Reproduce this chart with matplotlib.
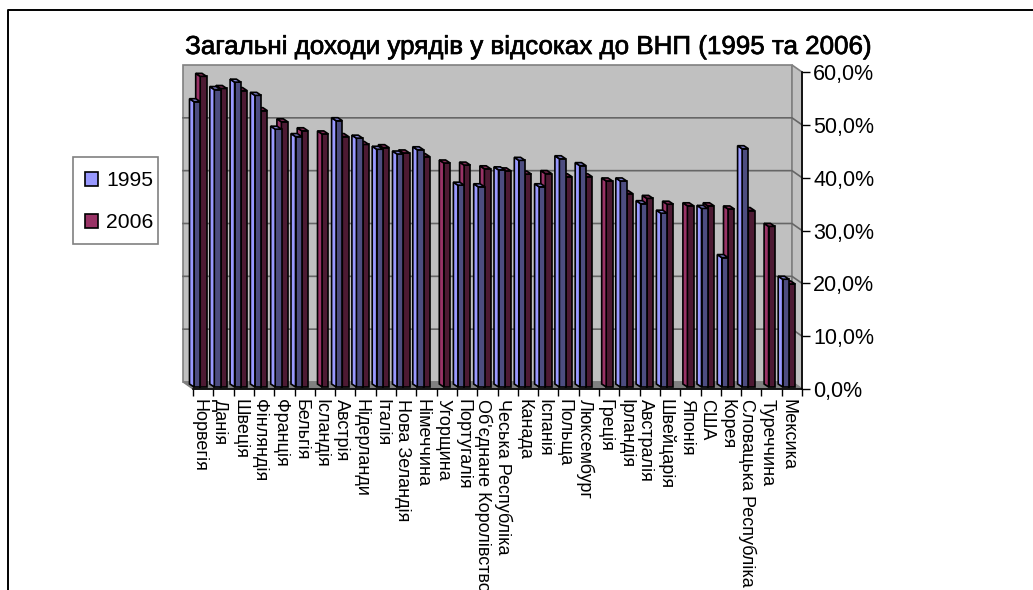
import numpy as np
import matplotlib
matplotlib.use("Agg")
import matplotlib.pyplot as plt
import matplotlib.patheffects as pe
from matplotlib.patches import Polygon, Rectangle

plt.rcParams['font.family'] = ['Liberation Sans', 'DejaVu Sans']

krainy = ["Норвегія", "Данія", "Швеція", "Фінляндія", "Франція", "Бельгія", "Ісландія", "Австрія",
          "Нідерланди", "Італія", "Нова Зеландія", "Німеччина", "Угорщина", "Португалія",
          "Об'єднане Королівство", "Чеська Республіка", "Канада", "Іспанія", "Польща", "Люксембург",
          "Греція", "Ірландія", "Австралія", "Швейцарія", "Японія", "США", "Корея",
          "Словацька Республіка", "Туреччина", "Мексика"]
n = np.nan
v1995 = [54.0, 56.3, 57.7, 55.2, 48.8, 47.4, n, 50.4, 47.1, 45.0, 44.1, 44.9, n, 38.2, 37.9,
         41.1, 42.9, 37.9, 43.2, 41.9, n, 39.0, 34.7, 32.9, n, 33.8, 24.5, 45.1, n, 20.4]
v2006 = [58.8, 56.5, 56.1, 52.3, 50.2, 48.5, 47.9, 47.4, 45.9, 45.3, 44.3, 43.6, 42.4, 42.0, 41.3,
         40.9, 40.3, 40.4, 39.8, 39.8, 39.0, 36.6, 35.7, 34.6, 34.3, 34.3, 33.7, 33.4, 30.4, 19.5]
tick_y = [0, 10, 20, 30, 40, 50, 60]
tick_y_lab = ["0,0%", "10,0%", "20,0%", "30,0%", "40,0%", "50,0%", "60,0%"]

W, H = 1033, 590
fig = plt.figure(figsize=(W / 100, H / 100), dpi=100)
ax = fig.add_axes([193 / W, (H - 389) / H, 609 / W, 317 / H])
ax.set_xlim(0, 30)
ax.set_ylim(0, 60)
ax.patch.set_visible(False)

# pixel -> data
px = 30 / 609
py = 60 / 317
dx = -10 * px   # depth of the box
dy = 7 * py

# walls
ax.add_patch(Polygon([(dx, dy), (30 + dx, dy), (30 + dx, 60 + dy), (dx, 60 + dy)], fc="#c0c0c0", ec="#808080", lw=1.2, zorder=1, clip_on=False))
ax.add_patch(Polygon([(30 + dx, dy), (30, 0), (30, 60), (30 + dx, 60 + dy)], fc="#c0c0c0", ec="#808080", lw=1.2, zorder=1, clip_on=False))
ax.add_patch(Polygon([(dx, dy), (30 + dx, dy), (30, 0), (0, 0)], fc="#808080", ec="#808080", lw=1, zorder=1, clip_on=False))
for t in tick_y[1:-1]:
    ax.plot([dx, 30 + dx, 30], [t + dy, t + dy, t], color="#666666", lw=1.2, zorder=2, clip_on=False)


def stovpci(x, vals, bok, front, verh):
    vals = np.array(vals)
    ok = ~np.isnan(vals)
    base = 2 * py
    ax.bar(x[ok], vals[ok], width=6.3 * px, bottom=base, align='edge', color=front, edgecolor="black", lw=1.2, zorder=3, clip_on=False)
    gl_x = -4.5 * px
    gl_y = 3 * py
    for a, v in zip(x[ok], vals[ok]):
        top = v + base
        ax.add_patch(Polygon([(a, base), (a, top), (a + gl_x, top + gl_y), (a + gl_x, base + gl_y)],
                             fc=bok, ec="black", lw=1.2, zorder=3, clip_on=False))
        ax.add_patch(Polygon([(a, top), (a + 6.3 * px, top), (a + 6.3 * px + gl_x, top + gl_y), (a + gl_x, top + gl_y)],
                             fc=verh, ec="black", lw=1.2, zorder=3, clip_on=False))


ind = np.arange(len(krainy))
# 2006 goes first, the 1995 bars stand in front of it
stovpci(ind + 7.2 * px, v2006, "#993366", "#4d1a33", "#802b55")
stovpci(ind + 1 * px, v1995, "#9999ff", "#4d4d80", "#8080d0")

ax.yaxis.tick_right()
ax.set_yticks(tick_y, tick_y_lab, fontsize=15.5, color="black")
ax.tick_params(axis='y', length=5.5, width=1, pad=2.5)
ax.set_xticks(np.arange(31))
ax.set_xticklabels([])
ax.tick_params(axis='x', which='major', length=5, width=1)
ax.set_xticks(ind + 0.3, krainy, minor=True, rotation=270, fontsize=13)
ax.tick_params(axis='x', which='minor', length=0, pad=7.5)
for s in ['top', 'left']:
    ax.spines[s].set_visible(False)
ax.spines['right'].set_linewidth(1.2)
ax.spines['bottom'].set_linewidth(1.2)
for lab in ax.get_xticklabels(minor=True):
    lab.set_va('top')
    lab.set_ha('center')

# title
t = fig.text(529 / W, 1 - 54 / H, "Загальні доходи урядів у відсоках до ВНП (1995 та 2006)", ha='center', va='baseline', fontsize=18.7)
t.set_path_effects([pe.withStroke(linewidth=0.5, foreground="black")])

# legend
fig.add_artist(Rectangle((73 / W, 1 - 244 / H), 85 / W, 87 / H, transform=fig.transFigure, fc="white", ec="#808080", lw=1.2))
for y, c, lab in [(172, "#9999ff", "1995"), (214, "#993366", "2006")]:
    fig.add_artist(Rectangle((84.5 / W, 1 - (y + 13.5) / H), 13.5 / W, 13.5 / H, transform=fig.transFigure, fc=c, ec="black", lw=1.2))
    fig.text(106 / W, 1 - (y + 14) / H, lab, fontsize=15.2, va='baseline')

# outer frame: only left and top are in the picture
fig.add_artist(plt.Line2D([7.5 / W, 7.5 / W, 1], [0, 1 - 10 / H, 1 - 10 / H], color="black", lw=1.4))

fig.savefig("out.png", dpi=100)
